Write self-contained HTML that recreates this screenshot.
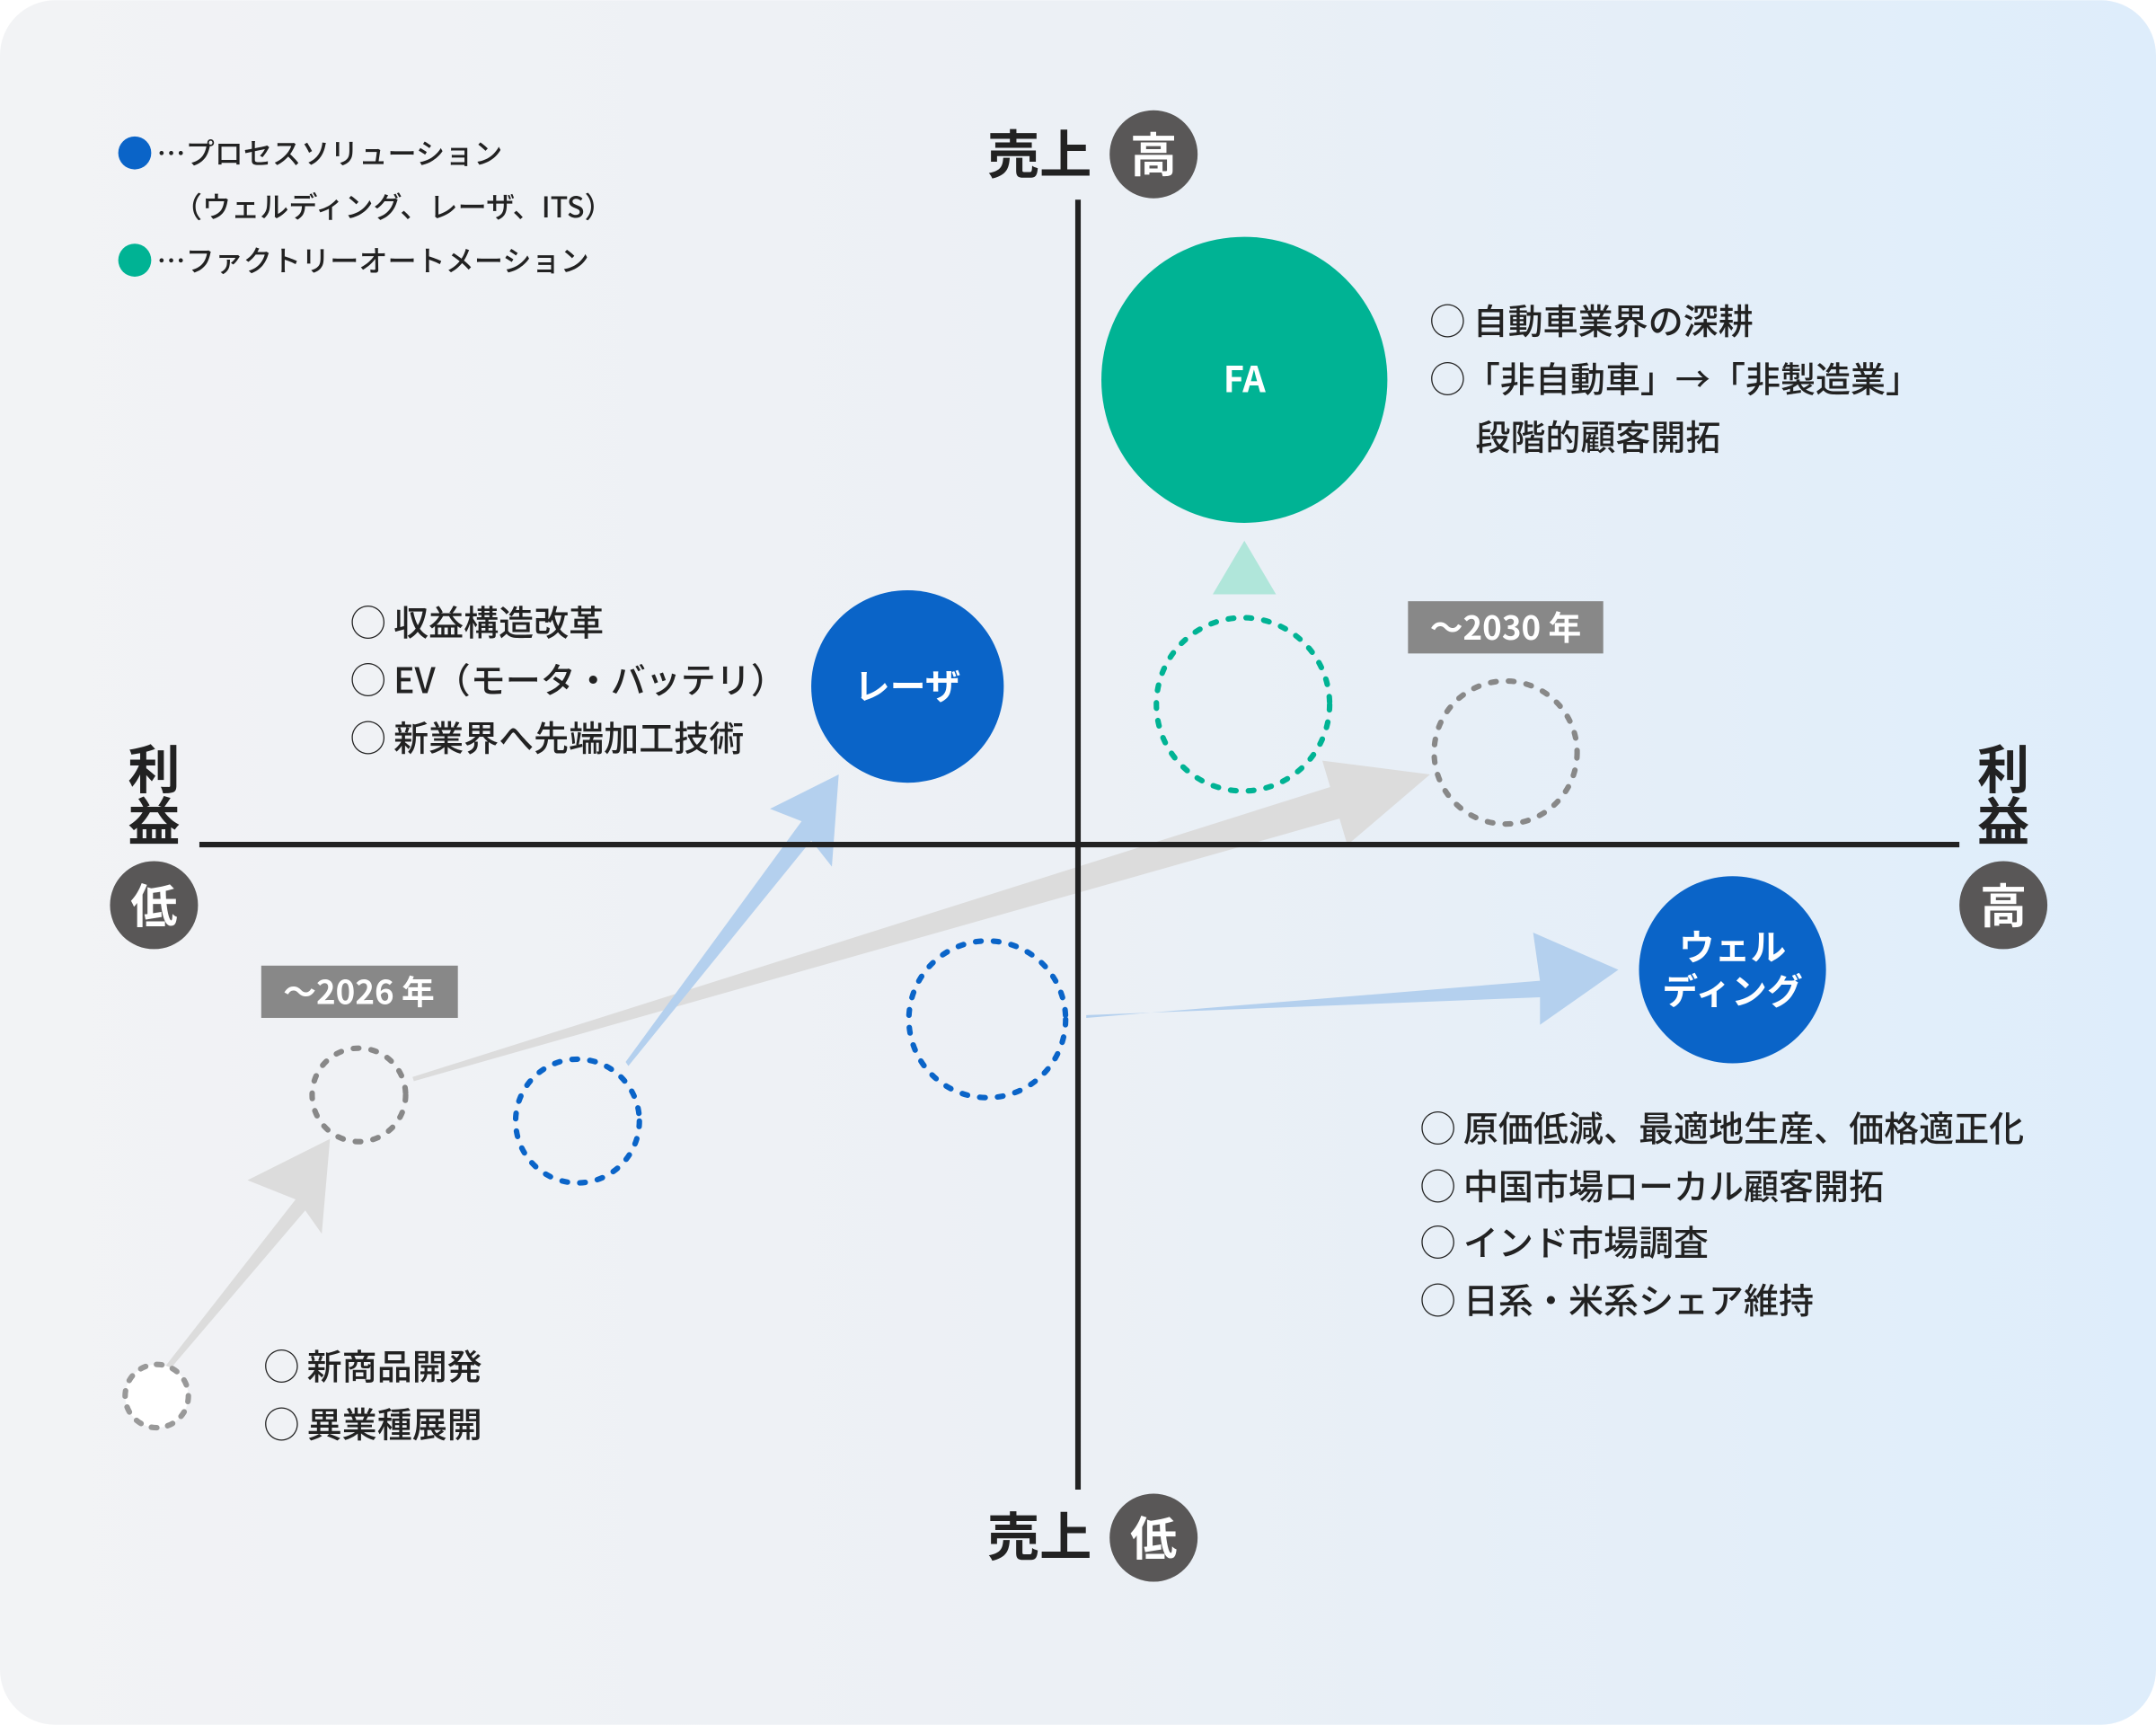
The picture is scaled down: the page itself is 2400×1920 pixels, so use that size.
<!DOCTYPE html>
<html><head><meta charset="utf-8"><style>
html,body{margin:0;padding:0;background:#fff;}
svg{display:block;}
text{font-family:"Noto Sans CJK JP","Liberation Sans",sans-serif;}
</style></head><body>
<svg width="2400" height="1920" viewBox="0 0 1568 1254" xmlns="http://www.w3.org/2000/svg">
<defs>
<linearGradient id="bg" x1="0" y1="0" x2="1" y2="0">
<stop offset="0" stop-color="#f2f3f5"/><stop offset="0.5" stop-color="#ecf0f5"/><stop offset="1" stop-color="#deedfb"/>
</linearGradient>
</defs>
<rect x="0" y="0" width="1568" height="1254" rx="40" fill="url(#bg)"/>

<circle cx="98" cy="111" r="12" fill="#0a64c8"/>
<text x="114" y="119" font-size="21" font-weight="500" fill="#222">⋯プロセスソリューション</text>
<text x="126" y="158" font-size="21" font-weight="500" fill="#222">（ウェルディング、レーザ、ITS）</text>
<circle cx="98" cy="189" r="12" fill="#00b394"/>
<text x="114" y="197" font-size="21" font-weight="500" fill="#222">⋯ファクトリーオートメーション</text>

<polygon points="300,783 967.4,572.1 961.7,552.9 1040,563 979.9,614.3 974.2,595.1 301,786" fill="#dcdcdc"/>
<polygon points="455,772 583,597 560,588 610,563 605,630 590,611 457,775" fill="#b4d0ee"/>
<polygon points="115,1000 215,872 180,858 240,828 234,897 222,880 118,1002" fill="#dcdcdc"/>
<polygon points="790,740 1120,713 1115,678 1177,705 1120,745 1120,725 790,738" fill="#b4d0ee"/>

<line x1="784" y1="145" x2="784" y2="1083" stroke="#222" stroke-width="4"/>
<line x1="145" y1="614" x2="1425" y2="614" stroke="#222" stroke-width="4"/>

<text x="718" y="126" font-size="38" font-weight="700" fill="#222">売上</text>
<circle cx="839" cy="112" r="32" fill="#595757"/>
<text x="839" y="125" font-size="34" font-weight="700" fill="#fff" text-anchor="middle">高</text>
<text x="718" y="1131" font-size="38" font-weight="700" fill="#222">売上</text>
<circle cx="839" cy="1118" r="32" fill="#595757"/>
<text x="839" y="1131" font-size="34" font-weight="700" fill="#fff" text-anchor="middle">低</text>
<text x="112" y="573" font-size="38" font-weight="700" fill="#222" text-anchor="middle">利</text>
<text x="112" y="611" font-size="38" font-weight="700" fill="#222" text-anchor="middle">益</text>
<circle cx="112" cy="658" r="32" fill="#595757"/>
<text x="112" y="671" font-size="34" font-weight="700" fill="#fff" text-anchor="middle">低</text>
<text x="1457" y="573" font-size="38" font-weight="700" fill="#222" text-anchor="middle">利</text>
<text x="1457" y="611" font-size="38" font-weight="700" fill="#222" text-anchor="middle">益</text>
<circle cx="1457" cy="658" r="32" fill="#595757"/>
<text x="1457" y="671" font-size="34" font-weight="700" fill="#fff" text-anchor="middle">高</text>

<circle cx="905" cy="276" r="104" fill="#00b394"/>
<text x="905" y="285" font-size="26" font-weight="700" fill="#fff" text-anchor="middle">FA</text>
<polygon points="905,393 882,432 928,432" fill="#b0e6da"/>
<circle cx="904" cy="512" r="63" fill="none" stroke="#00b394" stroke-width="4" stroke-dasharray="4,9" stroke-linecap="round"/>
<text x="1040" y="243" font-size="25.5" font-weight="500" fill="#222">◯ 自動車業界の深耕</text>
<text x="1040" y="285" font-size="25.5" font-weight="500" fill="#222">◯「非自動車」→「非製造業」</text>
<text x="1073" y="327" font-size="25.5" font-weight="500" fill="#222">段階的顧客開拓</text>

<circle cx="660" cy="499" r="70" fill="#0a64c8"/>
<text x="660" y="508" font-size="26" font-weight="700" fill="#fff" text-anchor="middle">レーザ</text>
<text x="255" y="462" font-size="25.5" font-weight="500" fill="#222">◯ 収益構造改革</text>
<text x="255" y="504" font-size="25.5" font-weight="500" fill="#222">◯ EV（モータ・バッテリ）</text>
<text x="255" y="546" font-size="25.5" font-weight="500" fill="#222">◯ 新業界へ先端加工技術</text>

<rect x="1024" y="437" width="142" height="38" fill="#888"/>
<text x="1095" y="465" font-size="24" font-weight="700" fill="#fff" text-anchor="middle">～2030 年</text>
<circle cx="1095" cy="547" r="52" fill="none" stroke="#888" stroke-width="4" stroke-dasharray="4,9" stroke-linecap="round"/>

<rect x="190" y="702" width="143" height="38" fill="#888"/>
<text x="261" y="730" font-size="24" font-weight="700" fill="#fff" text-anchor="middle">～2026 年</text>
<circle cx="261" cy="796" r="34" fill="none" stroke="#888" stroke-width="4" stroke-dasharray="4,9" stroke-linecap="round"/>
<circle cx="420" cy="815" r="45" fill="none" stroke="#0a64c8" stroke-width="4" stroke-dasharray="4,9" stroke-linecap="round"/>
<circle cx="114" cy="1015" r="23" fill="#fff" stroke="#999" stroke-width="4" stroke-dasharray="4,8" stroke-linecap="round"/>
<text x="192" y="1003" font-size="25.5" font-weight="500" fill="#222">◯ 新商品開発</text>
<text x="192" y="1045" font-size="25.5" font-weight="500" fill="#222">◯ 異業種展開</text>

<circle cx="718" cy="741" r="57" fill="none" stroke="#0a64c8" stroke-width="4" stroke-dasharray="4,9" stroke-linecap="round"/>
<circle cx="1260" cy="705" r="68" fill="#0a64c8"/>
<text x="1260" y="698" font-size="26" font-weight="700" fill="#fff" text-anchor="middle">ウェル</text>
<text x="1260" y="730" font-size="26" font-weight="700" fill="#fff" text-anchor="middle">ディング</text>
<text x="1033" y="830" font-size="25.5" font-weight="500" fill="#222">◯ 原価低減、最適地生産、価格適正化</text>
<text x="1033" y="872" font-size="25.5" font-weight="500" fill="#222">◯ 中国市場ローカル顧客開拓</text>
<text x="1033" y="913" font-size="25.5" font-weight="500" fill="#222">◯ インド市場調査</text>
<text x="1033" y="955" font-size="25.5" font-weight="500" fill="#222">◯ 日系・米系シェア維持</text>
</svg>
</body></html>
